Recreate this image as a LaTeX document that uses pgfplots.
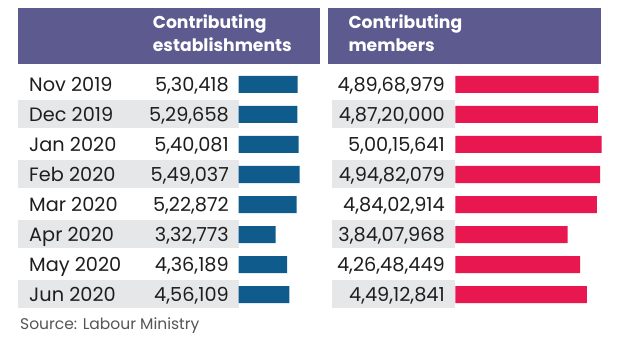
\documentclass[border=0pt]{standalone}
\usepackage{pgfplots}
\pgfplotsset{compat=1.18}
\usepackage{fontspec}
\setmainfont{Poppins}
\definecolor{hdr}{HTML}{5C5A8E}
\definecolor{barblue}{HTML}{0F5B8B}
\definecolor{barred}{HTML}{E9174F}
\definecolor{band}{HTML}{E6E7E8}
\definecolor{txt}{HTML}{1E1E1E}
\definecolor{src}{HTML}{555555}
\begin{document}
\begin{tikzpicture}[x=1pt,y=1pt]
\path[fill=white] (0,0) rectangle (620,350);
\fill[hdr] (18,286) rectangle (319.5,341.7);
\fill[hdr] (327.5,286) rectangle (600.7,341.7);
\foreach \b in {221.5,161.5,101.5,41.5} {
  \fill[band] (18,\b) rectangle +(220.5,28);
  \fill[band] (332.3,\b) rectangle +(123,28);
}
\tikzset{hd/.style={anchor=base west, text=white, inner sep=0, font=\bfseries\fontsize{17.2}{21}\selectfont},
  rw/.style={inner sep=0, text=txt, font=\fontsize{19.3}{22}\selectfont}}
\node[hd] at (152.7,321) {Contributing};
\node[hd] at (152.7,298.3) {establishments};
\node[hd] at (348.3,321) {Contributing};
\node[hd] at (348.3,298.3) {members};
% month labels
\node[rw,anchor=base west] at (29,258.9) {Nov 2019};
\node[rw,anchor=base west] at (29,228.9) {Dec 2019};
\node[rw,anchor=base west] at (29,198.9) {Jan 2020};
\node[rw,anchor=base west] at (29,168.9) {Feb 2020};
\node[rw,anchor=base west] at (29,138.9) {Mar 2020};
\node[rw,anchor=base west] at (29,108.9) {Apr 2020};
\node[rw,anchor=base west] at (29,78.9) {May 2020};
\node[rw,anchor=base west] at (29,48.9) {Jun 2020};
% establishments
\node[rw,anchor=base east] at (229,258.9) {5,30,418};
\node[rw,anchor=base east] at (229,228.9) {5,29,658};
\node[rw,anchor=base east] at (229,198.9) {5,40,081};
\node[rw,anchor=base east] at (229,168.9) {5,49,037};
\node[rw,anchor=base east] at (229,138.9) {5,22,872};
\node[rw,anchor=base east] at (229,108.9) {3,32,773};
\node[rw,anchor=base east] at (229,78.9) {4,36,189};
\node[rw,anchor=base east] at (229,48.9) {4,56,109};
% members
\node[rw,anchor=base east] at (445,258.9) {4,89,68,979};
\node[rw,anchor=base east] at (445,228.9) {4,87,20,000};
\node[rw,anchor=base east] at (445,198.9) {5,00,15,641};
\node[rw,anchor=base east] at (445,168.9) {4,94,82,079};
\node[rw,anchor=base east] at (445,138.9) {4,84,02,914};
\node[rw,anchor=base east] at (445,108.9) {3,84,07,968};
\node[rw,anchor=base east] at (445,78.9) {4,26,48,449};
\node[rw,anchor=base east] at (445,48.9) {4,49,12,841};
\node[anchor=base west, inner sep=0, text=src, font=\fontsize{15.5}{18}\selectfont] at (20,20) {Source: Labour Ministry};
\begin{axis}[at={(238.7pt,280.5pt)}, anchor=north west, x=0.111pt, y=30pt, y dir=reverse,
  xmin=0, xmax=560, ymin=-0.5, ymax=7.5, hide axis, xbar, bar width=17pt, clip=false]
\addplot[fill=barblue, draw=none] coordinates {(530.418,0) (529.658,1) (540.081,2) (549.037,3) (522.872,4) (332.773,5) (436.189,6) (456.109,7)};
\end{axis}
\begin{axis}[at={(455.3pt,280.5pt)}, anchor=north west, x=2.927pt, y=30pt, y dir=reverse,
  xmin=0, xmax=52, ymin=-0.5, ymax=7.5, hide axis, xbar, bar width=17pt, clip=false]
\addplot[fill=barred, draw=none] coordinates {(48.968979,0) (48.72,1) (50.015641,2) (49.482079,3) (48.402914,4) (38.407968,5) (42.648449,6) (44.912841,7)};
\end{axis}
\end{tikzpicture}
\end{document}
